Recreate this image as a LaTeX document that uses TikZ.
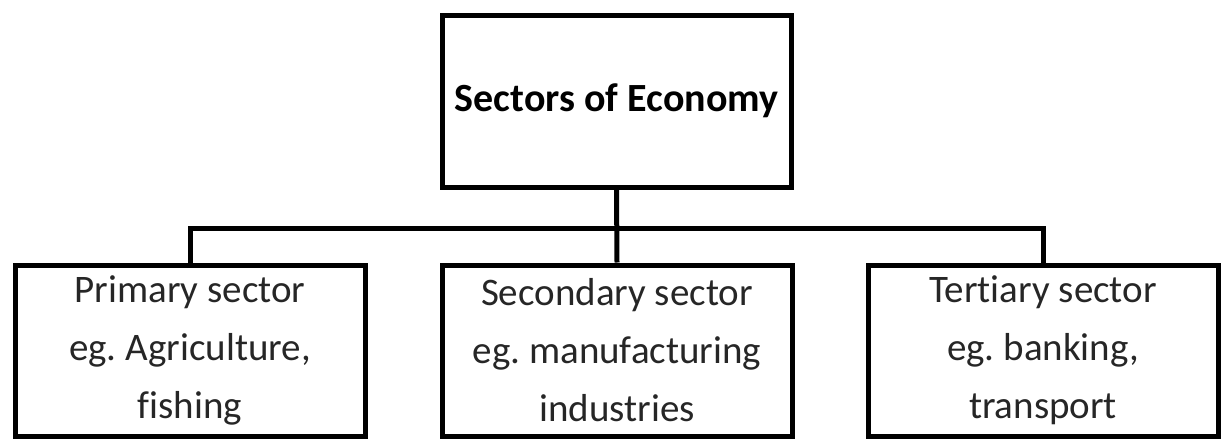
\documentclass[tikz,border=0pt]{standalone}
\usepackage{fontspec}
\setmainfont{Carlito}[Ligatures=NoCommon]
\usepackage{tikz}
\frenchspacing

\begin{document}
\begin{tikzpicture}[x=1pt,y=-1pt,line width=5pt,font=\fontsize{39}{58}\selectfont,
  sectorbox/.style={draw,minimum width=350pt,minimum height=171pt,align=center,inner sep=0pt,text=black!85}]
\useasboundingbox (0,0) rectangle (1226,439);
\node[sectorbox,minimum width=349pt,minimum height=172pt,text=black,font=\fontsize{40}{58}\selectfont\bfseries] (econ) at (616.5,101) {Sectors of Economy};
\node[sectorbox] (prim) at (190,350.5) {Primary sector\\eg. Agriculture,\\fishing};
\node[sectorbox] (sec) at (617,350.5) {Secondary sector\\eg. manufacturing\\industries};
\node[sectorbox] (ter) at (1043,350.5) {Tertiary sector\\eg. banking,\\transport};
\coordinate (bar) at (617,228);
\draw (econ.south)--(sec.north);\draw (prim.north) |- (bar) -| (ter.north);
\end{tikzpicture}
\end{document}
